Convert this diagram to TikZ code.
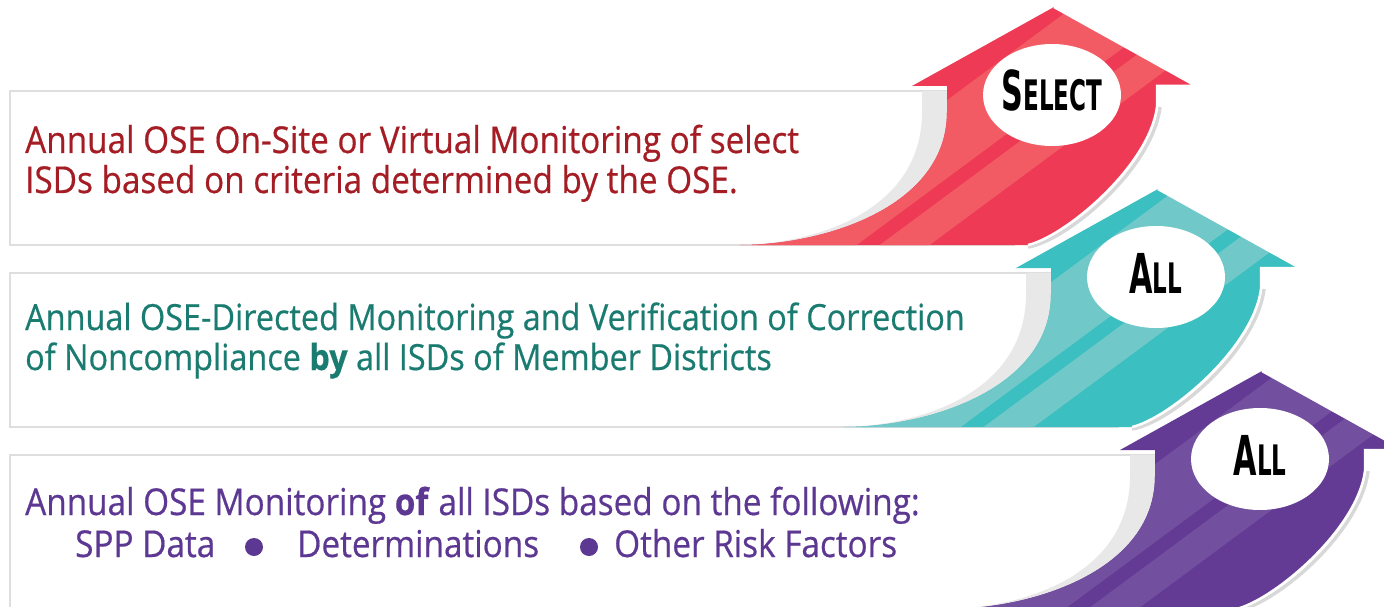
\documentclass[tikz,border=0pt]{standalone}
\usepackage{fontspec}
\setmainfont[FakeStretch=0.9, FakeBold=0.5]{Open Sans}
\newfontfamily\tagfont[FakeStretch=0.55]{DejaVu Sans}
\usetikzlibrary{calc}

\definecolor{redDark}{HTML}{EE3A54}
\definecolor{redLight}{HTML}{F25A64}
\definecolor{tealDark}{HTML}{3CBFC0}
\definecolor{tealLight}{HTML}{70C9C8}
\definecolor{purpDark}{HTML}{643B94}
\definecolor{purpLight}{HTML}{724F9F}
\definecolor{redText}{HTML}{A51D24}
\definecolor{tealText}{HTML}{1A7C71}
\definecolor{purpText}{HTML}{5D3893}
\definecolor{boxLine}{HTML}{DEDEDE}
\definecolor{shadowGrey}{HTML}{E8E8E8}
\definecolor{rimGrey}{HTML}{D8D8D8}

\tikzset{
	textbox/.style={draw=boxLine, line width=1.2pt, fill=white},
	caption/.style={anchor=base west, inner sep=0pt, font=\fontsize{37}{44}\selectfont},
	tag/.style={anchor=base, inner sep=0pt, font=\tagfont\bfseries},
	dot/.style={circle, fill=purpText, inner sep=0pt, minimum size=18pt},
}

\begin{document}
\begin{tikzpicture}[x=1pt, y=-1pt]
    \useasboundingbox (0,0) rectangle (1384,607);
    \clip (0,0) rectangle (1384,607);
	\foreach \ytop/\ybot/\xright in {91/245/1014, 273/427/1118, 455/640/1222}
	\draw[textbox] (10,\ytop) rectangle (\xright,\ybot);
	\foreach \ax/\ay/\dark/\light/\first/\rest [count=\i] in {1054/7/redDark/redLight/S/ELECT, 1158/189/tealDark/tealLight/A/LL, 1262/371/purpDark/purpLight/A/LL}
	{
    \begin{scope}[shift={(\ax,\ay)}]
	\fill[shadowGrey] (-132,84) -- (-100,84) -- (-100,238) -- (-314,238) .. controls (-230,236) and (-132,200) .. (-132,105) -- cycle;
	\draw[rimGrey, line width=3.5pt] (106,100) .. controls (98,163) and (12,234) .. (-26,240);
	\begin{scope}
	    \clip (0,0) -- (142,79) -- (103,79) -- (103,100) .. controls (95,160) and (10,230) .. (-26,238) -- (-314,238) .. controls (-230,238) and (-107,200) .. (-107,105) -- (-107,79) -- (-142,79) -- cycle;
	    \fill[\dark] (-400,-10) rectangle (400,300);
	    \foreach \ua/\ub in {14/92, 109/146}
	    \fill[\light] (-400,\ua+296) -- (400,\ua-296) -- (400,\ub-296) -- (-400,\ub+296) -- cycle;
	\end{scope}
	\draw[white, line width=2.5pt] (0,0) -- (142,79) -- (103,79) -- (103,100) .. controls (95,160) and (10,230) .. (-26,238);
	\fill[white] (-2,88) ellipse [x radius=69pt, y radius=51pt];
	\node[tag] (tag\i) at (-2,104) {{\fontsize{55}{55}\selectfont\first}{\fontsize{42}{42}\selectfont\rest}};
    \end{scope}
	}
	\node[caption, text=redText] (redLineA) at (25,153) {Annual OSE On-Site or Virtual Monitoring of select};
	\node[caption, text=redText] (redLineB) at (25,193) {ISDs based on criteria determined by the OSE.};
	\node[caption, text=tealText, font=\fontsize{36}{44}\selectfont] (tealLineA) at (25,330) {Annual OSE-Directed Monitoring and Verification of Correction};
	\node[caption, text=tealText, font=\fontsize{36}{44}\selectfont] (tealLineB) at (25,370) {of Noncompliance \textbf{by} all ISDs of Member Districts};
	\node[caption, text=purpText] (purpLineA) at (25,515) {Annual OSE Monitoring \textbf{of} all ISDs based on the following:};
	\node[caption, text=purpText] (sppData) at (75,557) {SPP Data};
	\node[caption, text=purpText] (determ) at (297,557) {Determinations};
	\node[caption, text=purpText] (otherRisk) at (614,557) {Other Risk Factors};
	\node[dot] (dotA) at (254,547) {};
	\node[dot] (dotB) at (589,547) {};
\end{tikzpicture}
\end{document}
